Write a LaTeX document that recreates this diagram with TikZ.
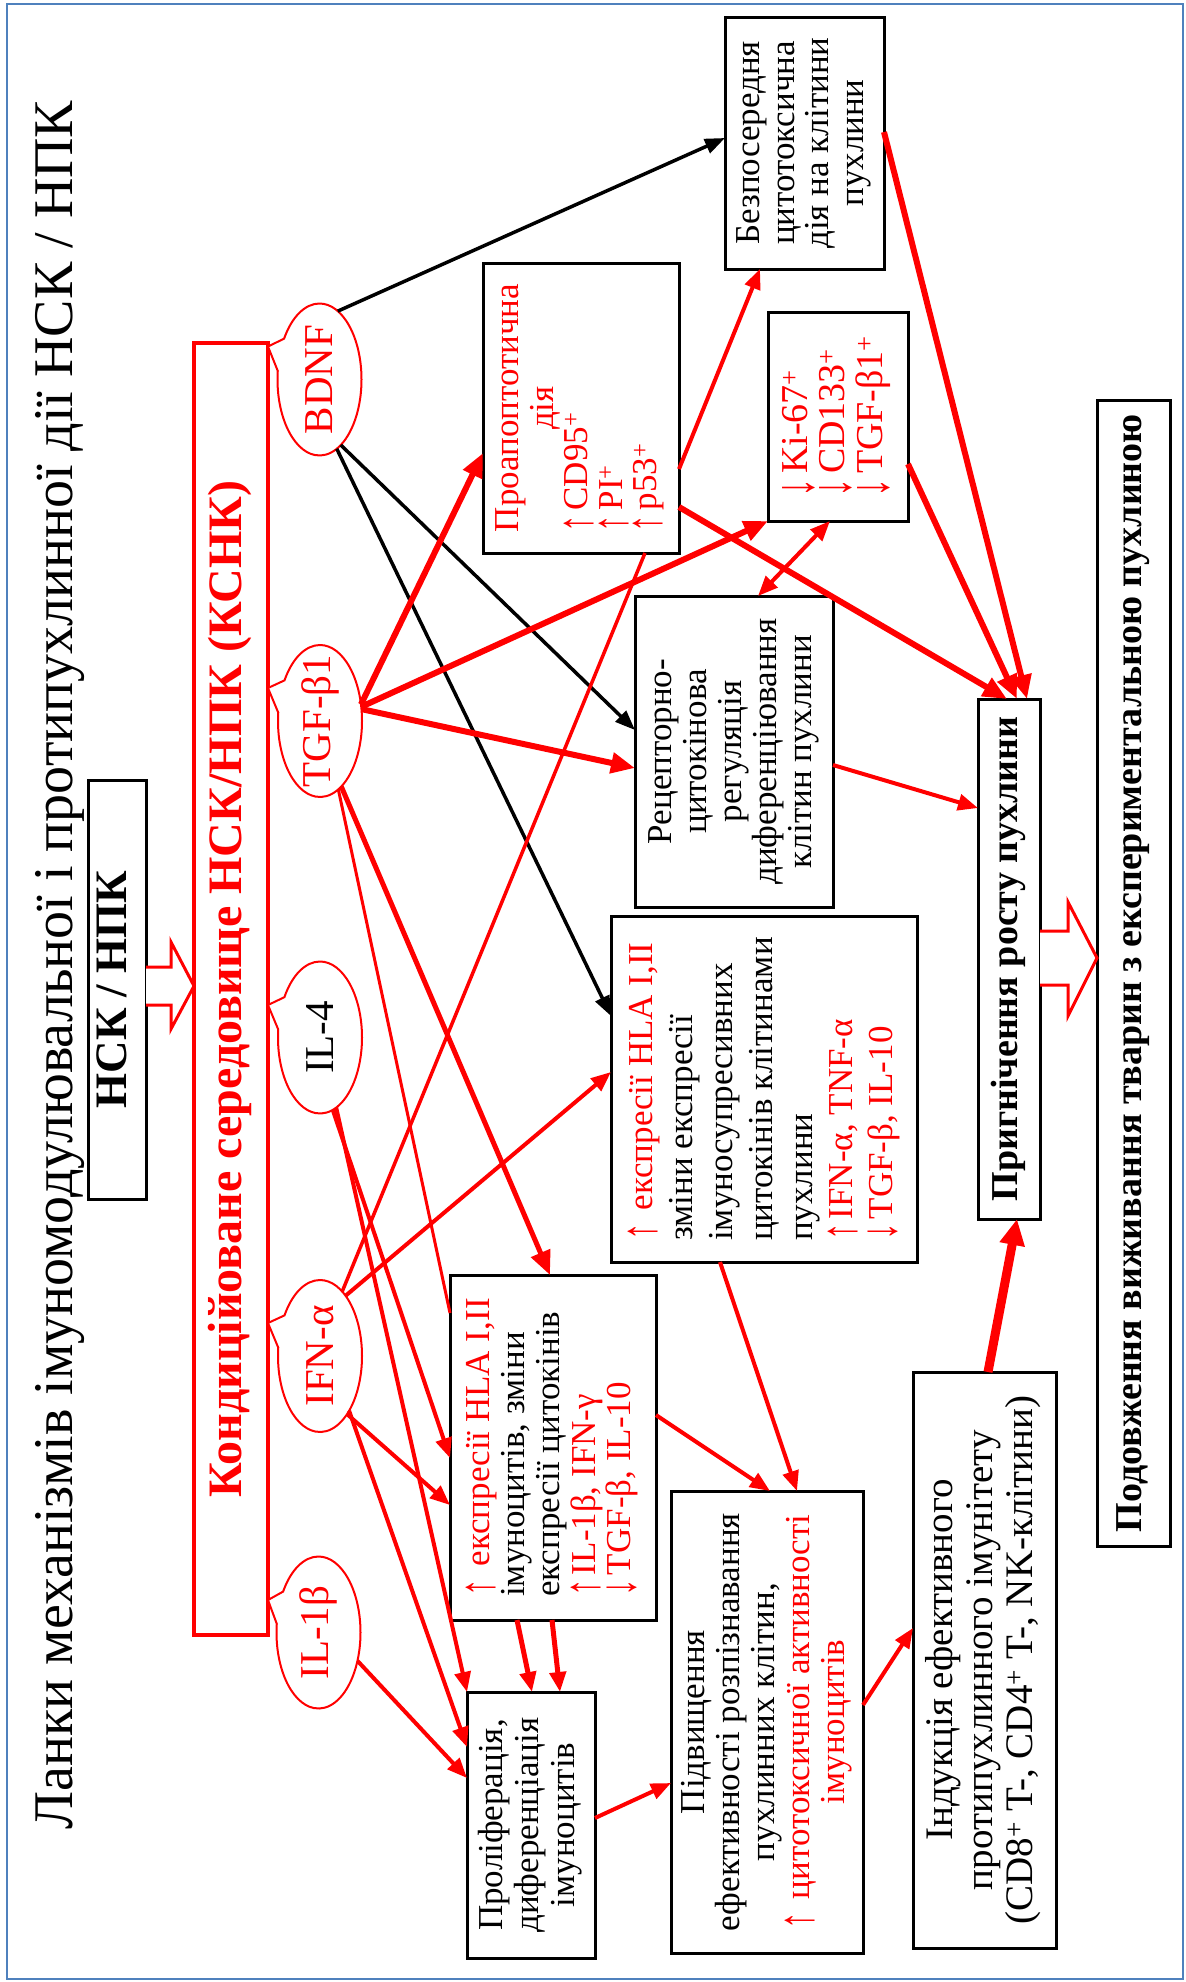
\documentclass[tikz,border=0pt]{standalone}
\usepackage{graphicx}
\usepackage{fontspec}
\setmainfont{Liberation Serif}
\usetikzlibrary{arrows.meta,shapes.callouts,shapes.geometric}
\newcommand{\rc}[1]{\rotatebox{90}{\begin{tabular}{@{}c@{}}#1\end{tabular}}}
\newcommand{\rl}[1]{\rotatebox{90}{\begin{tabular}{@{}l@{}}#1\end{tabular}}}
\newcommand{\rz}[1]{\rotatebox{90}{\makebox[0pt]{#1}}}
\newcommand{\fs}[2]{\fontsize{#1}{#2}\selectfont}
\newcommand{\mc}[1]{\multicolumn{1}{@{}c@{}}{#1}}
\newcommand{\ua}{\raisebox{-0.14em}{\scalebox{1}[1.45]{↑}}\kern0.12em}
\newcommand{\da}{\raisebox{-0.14em}{\scalebox{1}[1.45]{↓}}\kern0.12em}
\definecolor{frameblue}{RGB}{79,129,189}
\tikzset{
  box/.style={rectangle, draw=black, line width=3pt, fill=white, inner sep=0pt, outer sep=0pt},
  bub/.style={ellipse callout, draw=red, line width=2pt, fill=white, inner sep=0pt, outer sep=0pt,
    minimum width=84pt, minimum height=152pt, callout pointer arc=26, text=red, font=\fs{41}{41}},
  redarr/.style={draw=red, line width=4pt, -{Triangle[length=20pt,width=16pt]}},
  redthick/.style={draw=red, line width=6pt, -{Triangle[length=24pt,width=20pt]}},
  blackarr/.style={draw=black, line width=3.5pt, -{Triangle[length=20pt,width=15pt]}},
  redline/.style={draw=red, line width=3.5pt},
  blockarr/.style={draw=red, line width=3pt, fill=white, line join=miter}
}
\begin{document}
\begin{tikzpicture}[x=1pt,y=-1pt]
\useasboundingbox (0,0) rectangle (1186,1982);
\draw[frameblue, line width=2pt] (7,4) rectangle (1183,1979);

% title
\node[rotate=90, anchor=base, font=\fs{56}{60}] (title) at (72,965)
  {Ланки механізмів імуномодулювальної і протипухлинної дії НСК / НПК};

% left column
\node[box, minimum width=58pt, minimum height=419pt, font=\bfseries\fs{45}{48}] (nsk) at (117,989.5) {\rc{НСК / НПК}};
\node[box, draw=red, line width=4pt, minimum width=74pt, minimum height=1292pt, text=red, font=\bfseries\fs{48}{50}] (ksnk) at (231,989) {\rc{Кондиційоване середовище НСК/НПК (КСНК)}};

% bubbles
\node[bub, callout absolute pointer={(268,346.5)}] (bdnf) at (319.5,379.5) {\rz{BDNF}};
\node[bub, callout absolute pointer={(268,688)}] (tgf) at (320,721) {\rz{TGF-β1}};
\node[bub, text=black, callout absolute pointer={(268,1005)}] (il4) at (320,1037.5) {\rz{IL-4}};
\node[bub, callout absolute pointer={(268,1323)}] (ifn) at (320,1356) {\rz{IFN-α}};
\node[bub, callout absolute pointer={(268,1600)}] (il1b) at (318.5,1632.5) {\rz{IL-1β}};

% boxes
\node[box, minimum width=159pt, minimum height=252pt, font=\fs{35}{34.5}] (besp) at (804.5,143)
  {\rc{Безпосередня\\цитотоксична\\дія на клітини\\пухлини}};
\node[box, minimum width=196pt, minimum height=290pt, text=red, font=\fs{35}{34.5}] (proap) at (581,408)
  {\rl{\mc{Проапоптотична}\\\mc{дія}\\\ua CD95\textsuperscript{+}\\\ua PI\textsuperscript{+}\\\ua p53\textsuperscript{+}}};
\node[box, minimum width=140pt, minimum height=209pt, text=red, font=\fs{38}{37}] (ki67) at (838,416.5)
  {\rl{\da Ki-67\textsuperscript{+}\\\da CD133\textsuperscript{+}\\\da TGF-β1\textsuperscript{+}}};
\node[box, minimum width=198pt, minimum height=311pt, font=\fs{35}{35}] (recep) at (734,751.5)
  {\rc{Рецепторно-\\цитокінова\\регуляція\\диференціювання\\клітин пухлини}};
\node[box, minimum width=306pt, minimum height=346pt, font=\fs{35}{40}] (hla) at (764,1089)
  {\rl{\color{red}\ua\ експресії HLA I,II\\зміни експресії\\імуносупресивних\\цитокінів клітинами\\пухлини\\\color{red}\ua IFN-α, TNF-α\\\color{red}\da TGF-β, IL-10}};
\node[box, minimum width=206pt, minimum height=345pt, font=\fs{35}{35}] (imm) at (553,1447.5)
  {\rl{\color{red}\ua\ експресії HLA I,II\\імуноцитів, зміни\\експресії цитокінів\\\color{red}\ua IL-1β, IFN-γ\\\color{red}\da TGF-β, IL-10}};
\node[box, minimum width=128pt, minimum height=266pt, font=\fs{35}{36}] (prol) at (531,1825)
  {\rc{Проліферація,\\диференціація\\імуноцитів}};
\node[box, minimum width=192pt, minimum height=462pt, font=\fs{35}{35}] (pidv) at (767,1722)
  {\rc{Підвищення\\ефективності розпізнавання\\пухлинних клітин,\\\color{red}\ua\ цитотоксичної активності\\\color{red}імуноцитів}};
\node[box, minimum width=143pt, minimum height=576pt, font=\fs{39}{40}] (induk) at (984.5,1660)
  {\rc{Індукція ефективного\\протипухлинного імунітету\\(CD8\textsuperscript{+} T-, CD4\textsuperscript{+} T-, NK-клітини)}};
\node[box, minimum width=62pt, minimum height=520pt, font=\bfseries\fs{38}{40}] (pryh) at (1009,959)
  {\rc{Пригнічення росту пухлини}};
\node[box, minimum width=73pt, minimum height=1146pt, font=\bfseries\fs{38}{40}] (podov) at (1133.5,973)
  {\rc{Подовження виживання тварин з експериментальною пухлиною}};

% block arrows
\draw[blockarr] (nsk.east |- 0,967) -- (171,967) -- (171,942) -- (ksnk.west |- 0,986)
  -- (171,1029) -- (171,1005) -- (nsk.east |- 0,1005);
\draw[blockarr] (pryh.east |- 0,931) -- (1068,931) -- (1068,902) -- (podov.west |- 0,958)
  -- (1068,1016) -- (1068,985) -- (pryh.east |- 0,985);

% BDNF
\draw[blackarr] (bdnf.75) -- (besp.west |- 0,138);
\draw[blackarr] (bdnf.-72) -- (recep.west |- 0,730);
\draw[blackarr] (bdnf.-76) -- (hla.west |- 0,1016);

% TGF
\draw[redthick] (tgf.22) -- (proap.west |- 0,453);
\draw[redthick] (tgf.19) -- (ki67.south west);
\draw[redthick] (tgf.16) -- (recep.west |- 0,768);
\draw[redthick, line width=5pt] (tgf.-72) -- (imm.north -| 550,0);
\draw[redline, line width=3pt] (tgf.-75) -- (imm.west |- 0,1313);

% IL-4
\draw[redarr] (il4.-80) -- (imm.west |- 0,1458);
\draw[redarr] (il4.-77) -- (prol.north west);

% IFN
\draw[redline] (ifn.71) -- (proap.south -| 645,0);
\draw[redarr] (ifn.67) -- (hla.west |- 0,1072);
\draw[redarr] (ifn.-65) -- (imm.west |- 0,1505);
\draw[redarr] (ifn.-62) -- (prol.west |- 0,1747);

% IL-1b
\draw[redarr] (il1b.-36) -- (prol.west |- 0,1778);

% box to box
\draw[redarr, line width=5pt] (imm.south -| 517,0) -- (prol.north -| 532,0);
\draw[redarr, line width=5pt] (imm.south -| 552,0) -- (prol.north -| 560,0);
\draw[redarr] (imm.east |- 0,1415) -- (pidv.north -| 770,0);
\draw[redarr] (hla.south -| 720,0) -- (pidv.north -| 797,0);
\draw[redarr] (prol.east |- 0,1818) -- (pidv.west |- 0,1783);
\draw[redarr] (pidv.east |- 0,1705) -- (induk.west |- 0,1628);
\draw[redarr, line width=9pt, -{Triangle[length=26pt,width=24pt]}] (induk.north -| 988,0) -- (pryh.south -| 1017,0);
\draw[redarr] (recep.east |- 0,765) -- (pryh.west |- 0,808);
\draw[redarr] (proap.east |- 0,469) -- (besp.south -| 760,0);
\draw[redthick] (proap.east |- 0,507) -- (pryh.north -| 1007,0);
\draw[redarr, {Triangle[length=20pt,width=16pt]}-{Triangle[length=20pt,width=16pt]}] (ki67.south -| 830,0) -- (recep.north -| 758,0);
\draw[redthick] (ki67.east |- 0,464) -- (pryh.north -| 1017,0);
\draw[redthick] (besp.east |- 0,132) -- (pryh.north -| 1027,0);
\end{tikzpicture}
\end{document}
